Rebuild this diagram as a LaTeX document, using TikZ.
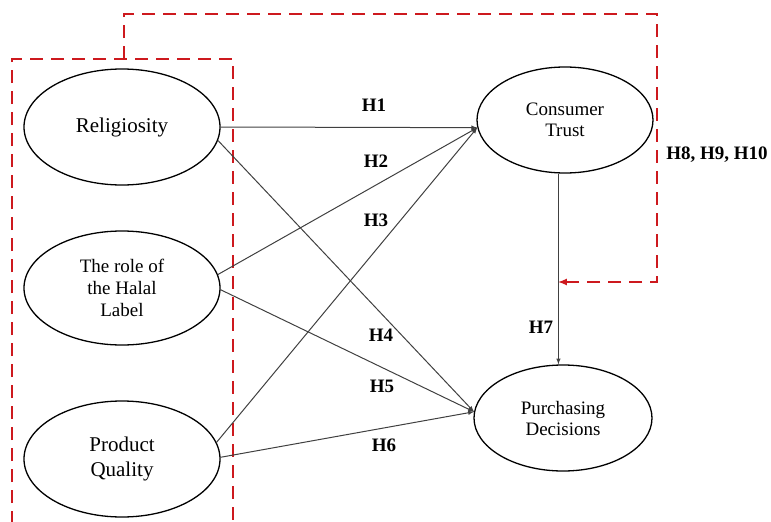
\documentclass[tikz,border=0pt]{standalone}
\usepackage{fontspec}
\setmainfont{Liberation Serif}
\usepackage{tikz}
\usetikzlibrary{shapes.geometric}

\definecolor{dashred}{RGB}{205,25,30}

\begin{document}
\begin{tikzpicture}[x=1pt,y=-1pt,
  construct/.style={draw,ellipse,line width=1.3pt,inner sep=0pt,align=center,
    minimum width=196pt,minimum height=116pt,font=\fontsize{19}{22}\selectfont},
  effect/.style={->,>=latex,draw=black!75,line width=1pt},
  hyp/.style={font=\fontsize{19}{22}\selectfont\bfseries},
  mediation/.style={draw=dashred,line width=2pt,dash pattern=on 13pt off 8pt}]

 \useasboundingbox (0,0) rectangle (771,522);

 % exogenous constructs
 \node[construct,font=\fontsize{21}{24}\selectfont] (rel) at (122,127) {Religiosity};
 \node[construct,minimum height=114pt] (halal) at (122,288) {The role of\\the Halal\\Label};
 \node[construct,font=\fontsize{21}{25}\selectfont] (pq) at (122,459) {Product\\Quality};

 % endogenous constructs
 \node[construct,minimum width=176pt,minimum height=106pt,font=\fontsize{19}{21}\selectfont] (ct) at (565,120) {Consumer\\Trust};
 \node[construct,minimum width=178pt,minimum height=106pt,font=\fontsize{19}{21}\selectfont] (pd) at (563,418) {Purchasing\\Decisions};

 % dashed group and mediation path
 \draw[mediation] (12,524) -- (12,59) -- (233,59) -- (233,524);
 \coordinate (boxtop) at (124,59);
 \coordinate (fb) at (558,282);
 \draw[mediation,->,>=latex] (boxtop) -- (124,14) -| (657,282) -- (fb);

 % direct effects
 \draw[effect] (rel.east) -- (ct.185);
 \draw[effect] (halal.8) -- (ct.185);
 \draw[effect] (pq.10) -- (ct.185);
 \draw[effect] (rel.-8) -- (pd.176);
 \draw[effect] (halal.-1) -- (pd.176);
 \draw[effect] (pq.1) -- (pd.176);
 \draw[effect] (ct.-97) -- (ct.-97 |- pd.north);

 \node[hyp] (h1) at (374,105) {H1};
 \node[hyp] (h2) at (376,161) {H2};
 \node[hyp] (h3) at (376,220) {H3};
 \node[hyp] (h4) at (381,335) {H4};
 \node[hyp] (h5) at (382,386) {H5};
 \node[hyp] (h6) at (384,445) {H6};
 \node[hyp] (h7) at (541,327) {H7};
 \node[hyp] (h8) at (717,155) {H8, H9, H10};
\end{tikzpicture}
\end{document}
